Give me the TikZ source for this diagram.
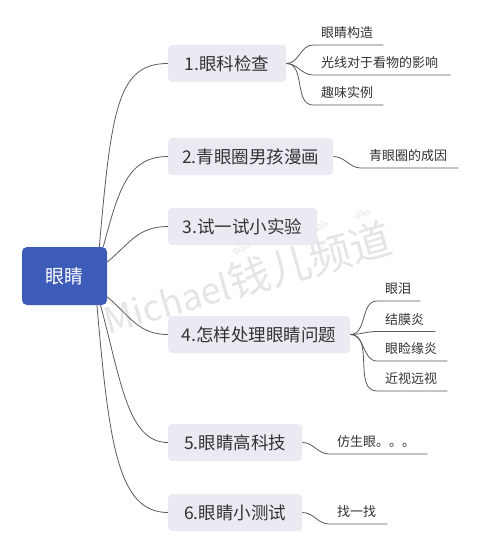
\documentclass[tikz,border=0pt]{standalone}
\usepackage{fontspec}
\setmainfont{Noto Sans CJK SC}
\definecolor{boxfill}{HTML}{EAEAF3}
\definecolor{rootfill}{HTML}{3D5BB8}
\definecolor{txt}{HTML}{333333}
\definecolor{edge}{HTML}{5A5A5A}
\newcommand\wmpy{\fontsize{9}{9}\selectfont}
\newcommand\wmcj{\fontsize{42}{42}\selectfont}
\newcommand\wmla{\fontsize{36}{36}\selectfont}
\begin{document}
\begin{tikzpicture}[x=1pt,y=-1pt,
  rootbox/.style={fill=rootfill, rounded corners=5pt, minimum width=85pt, minimum height=58pt, text=white, font=\fontsize{19}{19}\selectfont, inner sep=0pt},
  branch/.style={fill=boxfill, rounded corners=4pt, minimum height=37pt, minimum width=#1, anchor=west, text=txt, font=\fontsize{17.5}{17.5}\selectfont, inner sep=0pt},
  leaf/.style={anchor=south west, text width=#1, align=left, inner xsep=8pt, inner ysep=4pt, text height=10pt, text depth=3pt, text=txt, font=\fontsize{13}{13}\selectfont},
  link/.style={draw=edge, line width=0.8pt},
  wmark/.style={text=black!10, rotate=16, inner sep=0pt},
]
\useasboundingbox[fill=white] (0,0) rectangle (479,551);

% watermark (one text block: pinyin above the characters)
\node[wmark, anchor=base, font=\wmpy] (wm) at (252,293) {\setlength{\tabcolsep}{0pt}\begin{tabular}[b]{ccccc}
 & \wmpy qián & \wmpy ér & \wmpy pín & \wmpy dào\\[4pt]
\wmla Michael & \wmcj 钱 & \wmcj 儿 & \wmcj 频 & \wmcj 道
\end{tabular}};

% root and branches
\node[rootbox] (root) at (64.5,276) {眼睛};
\node[branch=118pt] (b1) at (168,63.5) {1.眼科检查};
\node[branch=165pt] (b2) at (168,156.5) {2.青眼圈男孩漫画};
\node[branch=149pt] (b3) at (168,226.5) {3.试一试小实验};
\node[branch=182pt] (b4) at (168,334.5) {4.怎样处理眼睛问题};
\node[branch=134pt] (b5) at (168,442.5) {5.眼睛高科技};
\node[branch=134pt] (b6) at (168,512.5) {6.眼睛小测试};

% leaves
\node[leaf=54pt] (l11) at (313,45) {眼睛构造};
\node[leaf=121pt] (l12) at (313,75) {光线对于看物的影响};
\node[leaf=54pt] (l13) at (313,105) {趣味实例};
\node[leaf=81pt] (l21) at (361,168) {青眼圈的成因};
\node[leaf=27pt] (l41) at (377,301) {眼泪};
\node[leaf=42pt] (l42) at (377,331.5) {结膜炎};
\node[leaf=54pt] (l43) at (377,361) {眼睑缘炎};
\node[leaf=54pt] (l44) at (377,391) {近视远视};
\node[leaf=82pt] (l51) at (329,454) {仿生眼。。。};
\node[leaf=42pt] (l61) at (329,524) {找一找};

% root connectors
\draw[link] (root.40) .. controls +(85:140pt) and +(180:50pt) .. (b1.west);
\draw[link] (root.37) .. controls +(75:60pt) and +(180:40pt) .. (b2.west);
\draw[link] (root.18) .. controls +(40:30pt) and +(180:30pt) .. (b3.west);
\draw[link] (root.-26) .. controls +(-40:30pt) and +(180:30pt) .. (b4.west);
\draw[link] (root.-39) .. controls +(-75:80pt) and +(180:40pt) .. (b5.west);
\draw[link] (root.-42) .. controls +(-85:140pt) and +(180:50pt) .. (b6.west);

% leaf connectors with underlines
\foreach \b/\l in {b1/l11,b1/l12,b1/l13,b2/l21,b4/l41,b4/l42,b4/l43,b4/l44,b5/l51,b6/l61}{
  \draw[link] (\b.east) to[out=0,in=180] (\l.south west) -- (\l.south east);
}
\end{tikzpicture}
\end{document}
